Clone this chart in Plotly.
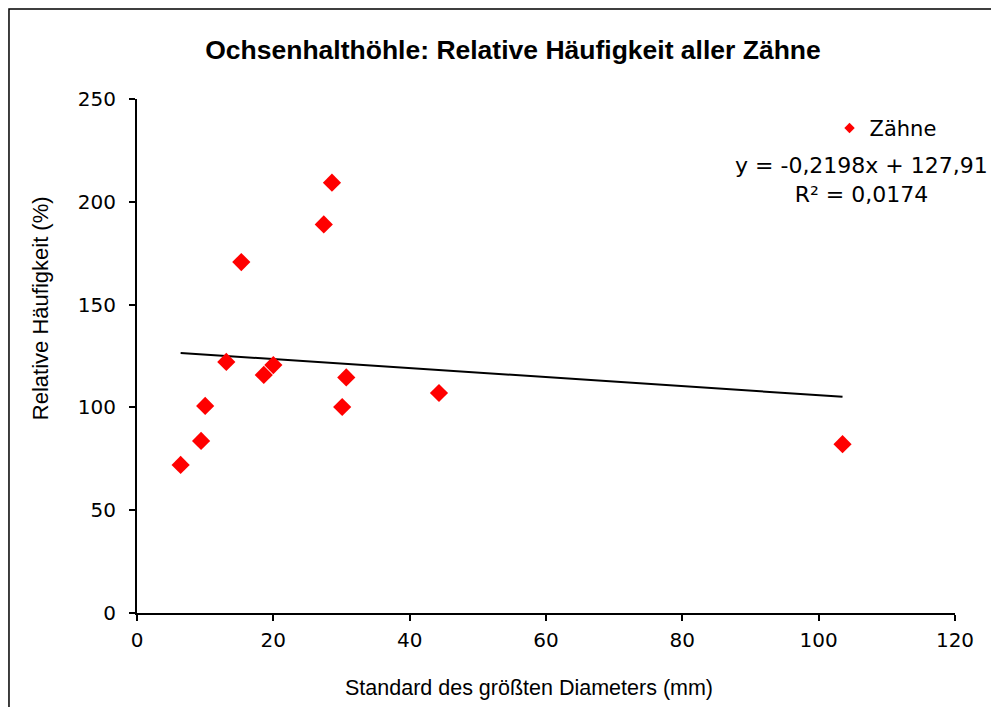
import numpy as np
import plotly.graph_objects as go

# Standard des größten Diameters (mm)
diameter_sd = [6.4, 9.4, 10.0, 13.1, 15.3, 18.6, 20.0, 27.4, 28.6, 30.1, 30.7, 44.3, 103.5]
# Relative Häufigkeit (%)
rel_freq = [72.0, 83.7, 100.7, 122.1, 170.7, 115.8, 120.6, 189.0, 209.3, 100.2, 114.6, 107.0, 82.1]

# linear trend as printed in the chart
slope = -0.2198
intercept = 127.91
r_squared = 0.0174

series_name = "Zähne"
title_text = "Ochsenhalthöhle: Relative Häufigkeit aller Zähne"
x_title = "Standard des größten Diameters (mm)"
y_title = "Relative Häufigkeit (%)"

tick_font = "DejaVu Sans, Verdana, sans-serif"
text_font = "Liberation Sans, Arial, sans-serif"

x_arr = np.array(diameter_sd)
trend_x = [x_arr.min(), x_arr.max()]
trend_y = [slope * v + intercept for v in trend_x]

fig = go.Figure()

# trendline
fig.add_trace(go.Scatter(
    x=trend_x, y=trend_y,
    mode='lines',
    line=dict(color='black', width=2),
    showlegend=False,
    hoverinfo='skip'
))

# data points
fig.add_trace(go.Scatter(
    x=diameter_sd, y=rel_freq,
    mode='markers',
    marker=dict(symbol='diamond', color='#FF0000', size=14),
    name=series_name,
    showlegend=False
))

# legend entry with the small marker
fig.add_trace(go.Scatter(
    x=[None], y=[None],
    mode='markers',
    marker=dict(symbol='diamond', color='#FF0000', size=8),
    name=series_name
))

eq_text = (f"y = {slope:.4f}x + {intercept:.2f}".replace('.', ',')
           + "<br>" + f"R² = {r_squared:.4f}".replace('.', ','))

fig.add_annotation(
    text=eq_text,
    xref='paper', yref='paper',
    x=0.886, y=0.842,
    xanchor='center', yanchor='middle',
    showarrow=False,
    align='center',
    font=dict(family=tick_font, size=22, color='black')
)

# axis titles as annotations (they sit off-centre in the original)
fig.add_annotation(
    text=x_title,
    xref='paper', yref='paper',
    x=0.479, y=-0.146,
    xanchor='center', yanchor='middle',
    showarrow=False,
    font=dict(family=text_font, size=21.5, color='black')
)
fig.add_annotation(
    text=y_title,
    xref='paper', yref='paper',
    x=-0.1186, y=0.593,
    xanchor='center', yanchor='middle',
    textangle=-90,
    showarrow=False,
    font=dict(family=text_font, size=22, color='black')
)

# outer chart frame (extends beyond the visible area on right/bottom)
fig.add_shape(
    type='rect', xref='paper', yref='paper',
    x0=-0.1565, x1=1.2, y0=-0.4, y1=1.1751,
    line=dict(color='black', width=1.5),
    fillcolor='rgba(0,0,0,0)',
    layer='below'
)

fig.update_layout(
    width=999, height=707,
    paper_bgcolor='white',
    plot_bgcolor='white',
    margin=dict(l=129, r=52, t=91, b=102),
    title=dict(
        text=f"<b>{title_text}</b>",
        x=0.5055, xanchor='center',
        y=0.9406, yanchor='middle',
        font=dict(family=text_font, size=26.5, color='black')
    ),
    legend=dict(
        x=0.8466, y=0.9828, xanchor='left', yanchor='top',
        font=dict(family=tick_font, size=21, color='black'),
        bgcolor='rgba(0,0,0,0)',
        itemwidth=30
    ),
    xaxis=dict(
        range=[0, 120], dtick=20,
        showgrid=False, zeroline=False,
        showline=True, linecolor='black', linewidth=2,
        ticks='outside', ticklen=6, tickwidth=2, tickcolor='black',
        tickfont=dict(family=tick_font, size=20, color='black'),
        ticklabelstandoff=2
    ),
    yaxis=dict(
        range=[0, 250], dtick=50,
        showgrid=False, zeroline=False,
        showline=True, linecolor='black', linewidth=2,
        ticks='outside', ticklen=6, tickwidth=2, tickcolor='black',
        tickfont=dict(family=tick_font, size=20, color='black'),
        ticklabelstandoff=9
    )
)

fig.write_html("out.html")
